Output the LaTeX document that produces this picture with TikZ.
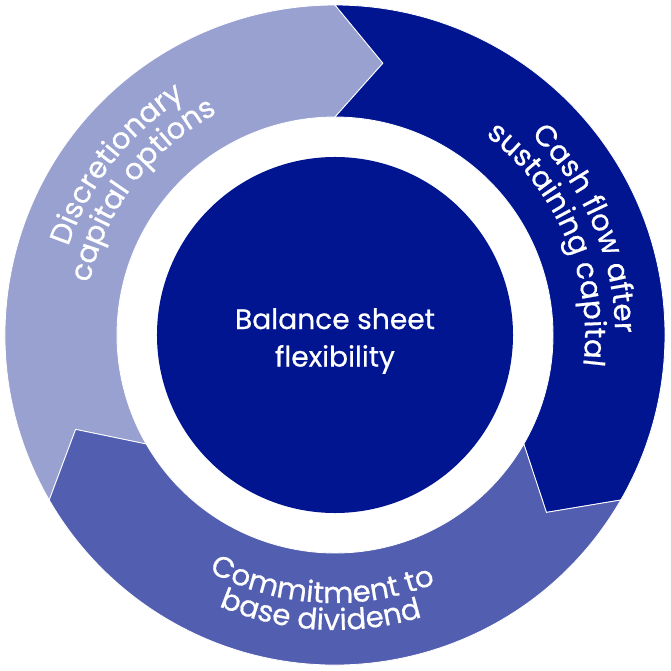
\documentclass[tikz,border=0pt]{standalone}
\usepackage{fontspec}
\setmainfont{Poppins}[FakeBold=0.6]
\usetikzlibrary{decorations.text}
\definecolor{ringlight}{HTML}{99A1D1}
\definecolor{ringmid}{HTML}{525EB0}
\definecolor{ringdark}{HTML}{011590}
% one arrow-shaped part of the ring: #1 start angle, #2 end angle (clockwise), #3 colour
\newcommand{\ringpart}[3]{%
  \filldraw[fill=#3,draw=white,line width=0.7pt]
    (#1:330) arc[start angle=#1,end angle=#2,radius=330]
    -- ({#2-10}:276) -- (#2:218)
    arc[start angle=#2,end angle=#1,radius=218]
    -- ({#1-10}:276) -- cycle;}
\tikzset{
  ringtext/.style={decorate,decoration={text along path,text align=center,
    text color=white,text={|\fontsize{25}{25}\selectfont|#1}}}
}
\begin{document}
\begin{tikzpicture}[x=0.03cm,y=0.03cm]
	\useasboundingbox (-335,-336) rectangle (336,335);
	% the three arrows of the ring
	\ringpart{210}{90}{ringlight}
	\ringpart{90}{-30}{ringdark}
	\ringpart{-30}{-150}{ringmid}
	% centre
	\node[circle,fill=ringdark,minimum size=10.68cm] (hub) at (0,0) {};
	\node[text=white,align=center,font=\fontsize{24}{32}\selectfont]
	  (hubtext) at (0,-6) {Balance sheet\\flexibility};
	% labels on the ring
	\path[ringtext={Discretionary}] (177:281) arc[start angle=177,end angle=107,radius=281];
	\path[ringtext={capital options}] (178:251) arc[start angle=178,end angle=108,radius=251];
	\path[ringtext={Cash flow after}] (59:280) arc[start angle=59,end angle=-13,radius=280];
	\path[ringtext={sustaining capital}] (60:250) arc[start angle=60,end angle=-14,radius=250];
	\path[ringtext={Commitment to}] (232:268) arc[start angle=232,end angle=302,radius=268];
	\path[ringtext={base dividend}] (232:295) arc[start angle=232,end angle=302,radius=295];
\end{tikzpicture}
\end{document}
